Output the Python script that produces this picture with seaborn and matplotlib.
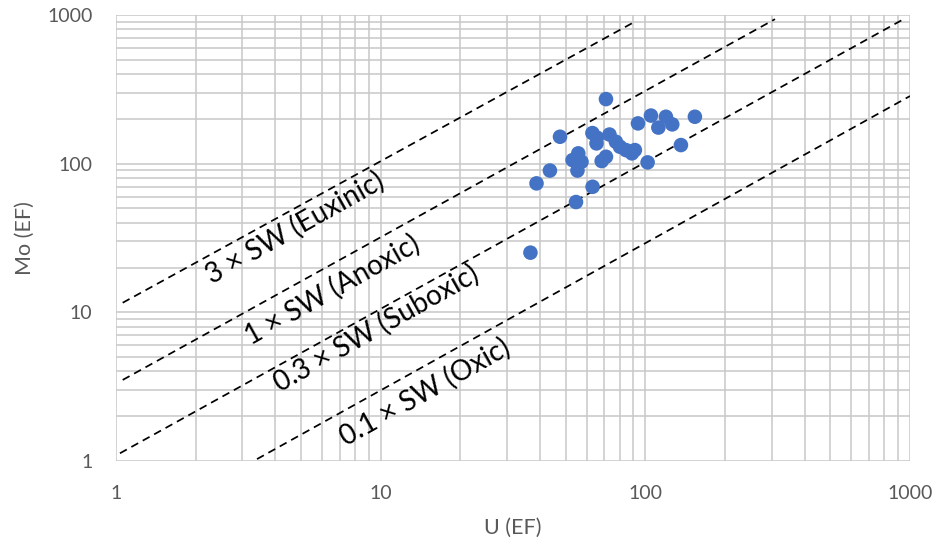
import numpy as np
import pandas as pd
import matplotlib
matplotlib.use('Agg')
import matplotlib.pyplot as plt
import seaborn as sns

# 样品数据 (U 与 Mo 富集系数)
u_ef = [36.8, 38.8, 43.6, 47.6, 54.7, 55.4, 53.1, 57.4, 55.8, 63.2,
        63.1, 65.4, 65.6, 68.4, 71.0, 71.0, 73.2, 77.4, 80.2, 84.5,
        89.0, 91.3, 93.8, 102, 105, 112, 119.6, 126.4, 136.3, 153.9]
mo_ef = [25.2, 73.7, 89.9, 151.7, 55.2, 89.9, 105.7, 103, 117.3, 69.9,
         160.6, 136.9, 149.8, 104.1, 111.3, 271.9, 157, 140.4, 129.9, 123.4,
         117.3, 123.4, 186.6, 102, 210.6, 174.9, 206.8, 183.8, 133.4, 206.8]

# 海水 Mo/U 参考线 (起点与终点)
line_labels = ['3 × SW (Euxinic)', '1 × SW (Anoxic)',
               '0.3 × SW (Suboxic)', '0.1 × SW (Oxic)']
line_x0 = [1.06, 1.06, 1.035, 3.41]
line_y0 = [11.6, 3.51, 1.127, 1.03]
line_x1 = [89.8, 309, 942, 1000]
line_y1 = [887, 938, 934, 285]
label_x = [4.75, 6.55, 9.6, 14.7]
label_y = [36.9, 14.1, 7.84, 2.91]

ticks = [1, 10, 100, 1000]
tick_labels = ['1', '10', '100', '1000']

sns.set_style('white')
plt.rcParams['font.family'] = ['Lato', 'DejaVu Sans']

fig = plt.figure(figsize=(9.39, 5.46), dpi=100)
ax = fig.add_axes([116 / 939, 85 / 546, 794 / 939, 446 / 546])

grey = '#595959'
ax.set_xscale('log')
ax.set_yscale('log')
ax.set_xlim(1, 1000)
ax.set_ylim(1, 1000)

# 参考线
for x0, y0, x1, y1 in zip(line_x0, line_y0, line_x1, line_y1):
    sns.lineplot(x=[x0, x1], y=[y0, y1], ax=ax, color='black',
                 linewidth=1.25, linestyle=(0, (4.5, 3)), zorder=3)

# 散点
sns.scatterplot(x=u_ef, y=mo_ef, ax=ax, color='#4472C4', s=110,
                edgecolor='none', zorder=4)

# 网格
ax.grid(True, which='both', color='#c8c8c8', linewidth=1.1)
ax.set_axisbelow(True)
for s in ax.spines.values():
    s.set_visible(False)
ax.tick_params(which='both', length=0, labelsize=14, labelcolor=grey, pad=17)
ax.set_xticks(ticks)
ax.set_xticklabels(tick_labels)
ax.set_yticks(ticks)
ax.set_yticklabels(tick_labels)
ax.minorticks_on()
ax.tick_params(which='minor', labelleft=False, labelbottom=False)

# 旋转标注 (沿对数坐标下 1:1 斜率方向)
w_px = 794 / 3
h_px = 446 / 3
angle = np.degrees(np.arctan2(h_px, w_px))
for txt, tx, ty in zip(line_labels, label_x, label_y):
    ax.text(tx, ty, txt, rotation=angle, rotation_mode='anchor',
            ha='center', va='center', fontsize=20, color='black', zorder=5)

ax.set_xlabel('U (EF)', fontsize=15.5, color=grey, labelpad=12)
ax.set_ylabel('Mo (EF)', fontsize=15.5, color=grey, labelpad=9)

fig.savefig('out.png', dpi=100)
